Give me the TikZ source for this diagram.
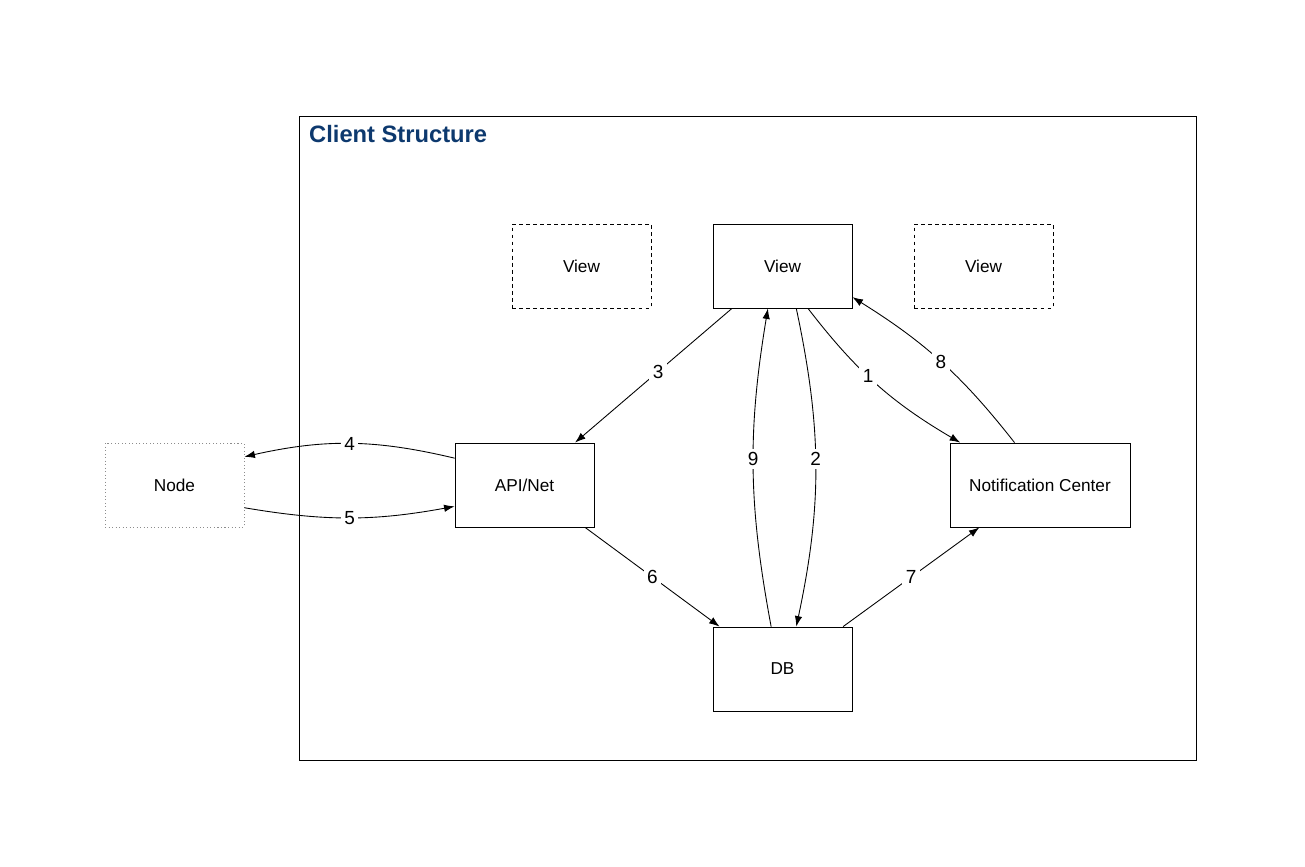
\documentclass[tikz,border=0pt]{standalone}
\usepackage{fontspec}
\setmainfont{Liberation Sans}
\usetikzlibrary{positioning, arrows.meta}
\definecolor{titleblue}{RGB}{13,57,110}

\begin{document}
\begin{tikzpicture}[x=0.02cm, y=-0.02cm, every node/.style={font=\fontsize{9.8}{12}\selectfont}]
  % Styles
  \tikzset{
    block/.style = {draw, shape=rectangle, line width=0.5pt, minimum width=2.78cm, minimum height=1.68cm},
    ghost/.style = {block, dash pattern=on 2.2pt off 1.8pt},
    remote/.style = {block, draw=black!45, dash pattern=on 0.6pt off 1.4pt},
    link/.style = {-{Latex[length=2.1mm, width=1.5mm]}, line width=0.5pt},
    num/.style = {fill=white, inner sep=2pt, font=\fontsize{10.8}{12}\selectfont}
  }
  \useasboundingbox (0,0) rectangle (1305,866);

  % Container
  \node[draw, line width=0.55pt, minimum width=17.96cm, minimum height=12.9cm] (Client) at (748,438.5) {};
  \node[anchor=west, text=titleblue, font=\fontsize{13.5}{16}\selectfont\bfseries] (ClientTitle) at (303,134) {Client Structure};

  % Views
  \node[ghost] (ViewLeft) at (581.5,266) {View};
  \node[block] (View) at (782.5,266) {View};
  \node[ghost] (ViewRight) at (983.5,266) {View};

  % Middle row
  \node[remote] (Node) at (174.5,485) {Node};
  \node[block] (API) at (524.5,485) {API/Net};
  \node[block, minimum width=3.6cm] (Notify) at (1040,485) {Notification Center};

  % Storage
  \node[block] (DB) at (782.5,669) {DB};

  % Connections
  \draw[link] (View.301) to[bend right=11] node[num, pos=0.44] {1} (Notify.152);
  \draw[link] (View.288) to[bend left=12] node[num, pos=0.47] {2} (DB.72);
  \draw[link] (View.220) -- node[num, pos=0.47] {3} (API.40);
  \draw[link] (API.159) to[bend right=13] node[num] {4} (Node.22);
  \draw[link] (Node.342) to[bend right=10] node[num] {5} (API.197);
  \draw[link] (API.325) -- node[num] {6} (DB.146);
  \draw[link] (DB.35) -- node[num] {7} (Notify.215);
  \draw[link] (Notify.121) to[bend right=10] node[num] {8} (View.336);
  \draw[link] (DB.105) to[bend left=10] node[num, pos=0.53] {9} (View.251);

\end{tikzpicture}
\end{document}
